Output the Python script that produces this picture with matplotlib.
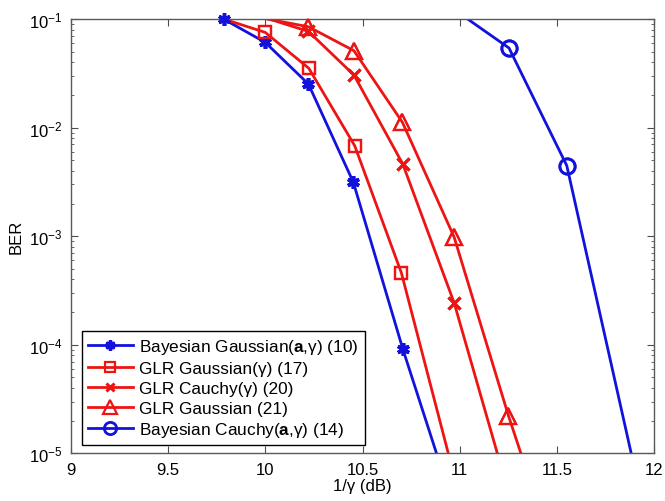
import numpy as np
import matplotlib
matplotlib.use('Agg')
import matplotlib.pyplot as plt

# BER vs 1/gamma (dB); the first/last points of some curves lie outside the
# plotted range and only set where the clipped line leaves the box
x_bayes_gauss = [9.786, 10.0, 10.222, 10.453, 10.707, 10.95]
ber_bayes_gauss = [0.1, 0.061, 0.0252, 0.00313, 9.15e-5, 4.1e-6]

x_glr_gauss_g = [9.55, 10.0, 10.224, 10.46, 10.70, 11.0]
ber_glr_gauss_g = [0.137, 0.0754, 0.0352, 0.0068, 4.58e-4, 3.9e-6]

x_glr_cauchy = [9.75, 10.222, 10.456, 10.707, 10.971, 11.25]
ber_glr_cauchy = [0.142, 0.077, 0.0305, 0.00462, 2.43e-4, 4.4e-6]

x_glr_gauss = [9.5, 10.222, 10.456, 10.705, 10.971, 11.25, 11.5]
ber_glr_gauss = [0.149, 0.085, 0.0511, 0.0112, 9.8e-4, 2.22e-5, 9.8e-7]

x_bayes_cauchy = [10.95, 11.253, 11.55, 11.95]
ber_bayes_cauchy = [0.13, 0.0541, 0.00446, 2.8e-6]

labels = [r'Bayesian Gaussian($\mathbf{a}$,γ) (10)',
          'GLR Gaussian(γ) (17)',
          'GLR Cauchy(γ) (20)',
          'GLR Gaussian (21)',
          r'Bayesian Cauchy($\mathbf{a}$,γ) (14)']

BLUE = '#1212dc'
RED = '#ee1414'

plt.rcParams['font.family'] = ['Liberation Sans', 'DejaVu Sans']
plt.rcParams['mathtext.fontset'] = 'custom'
plt.rcParams['mathtext.rm'] = 'Liberation Sans'
plt.rcParams['mathtext.bf'] = 'Liberation Sans:bold'

fig = plt.figure(figsize=(6.65, 5.02), dpi=100)
ax = fig.add_axes([0.1063, 0.095, 0.8777, 0.865])

styles = [
    dict(color=BLUE, marker=(6, 2, 0), ms=9, mew=2.5),
    dict(color=RED, marker='s', ms=9, mew=1.6, mfc='none'),
    dict(color=RED, marker='x', ms=8, mew=2.2),
    dict(color=RED, marker='^', ms=12, mew=1.6, mfc='none'),
    dict(color=BLUE, marker='o', ms=11, mew=2, mfc='none'),
]
series = [(x_bayes_gauss, ber_bayes_gauss),
          (x_glr_gauss_g, ber_glr_gauss_g),
          (x_glr_cauchy, ber_glr_cauchy),
          (x_glr_gauss, ber_glr_gauss),
          (x_bayes_cauchy, ber_bayes_cauchy)]

handles = []
for (xs, ys), st, lab in zip(series, styles, labels):
    xs = np.array(xs)
    ys = np.array(ys)
    inside = (ys >= 1e-5) & (ys <= 1e-1)
    h, = ax.plot(xs, ys, '-', lw=2, markevery=list(inside), label=lab, **st)
    # markers sitting on the frame are drawn whole
    ax.plot(xs[inside], ys[inside], ls='none', clip_on=False, zorder=3, **st)
    handles.append(h)

ax.set_yscale('log')
ax.set_xlim(9, 12)
ax.set_ylim(1e-5, 1e-1)
ax.set_xticks([9, 9.5, 10, 10.5, 11, 11.5, 12])
ax.set_xticklabels(['9', '9.5', '10', '10.5', '11', '11.5', '12'])
ax.tick_params(which='both', direction='in', top=True, right=True,
               labelsize=12, color='0.3')
ax.tick_params(which='major', length=5, pad=6)
ax.tick_params(which='minor', length=2.5)
for sp in ax.spines.values():
    sp.set_color('0.35')
    sp.set_linewidth(1)

ax.set_xlabel('1/γ (dB)', fontsize=12, labelpad=1)
ax.set_ylabel('BER', fontsize=12, labelpad=4)

leg = ax.legend(handles=handles, loc='lower left',
                bbox_to_anchor=(0.019, 0.018), borderaxespad=0,
                fontsize=12.4, fancybox=False, framealpha=1, edgecolor='black',
                handlelength=2.6, labelspacing=0.28, borderpad=0.35,
                handletextpad=0.4, markerscale=0.8)
leg.get_frame().set_linewidth(1)

fig.savefig('out.png', dpi=100)
